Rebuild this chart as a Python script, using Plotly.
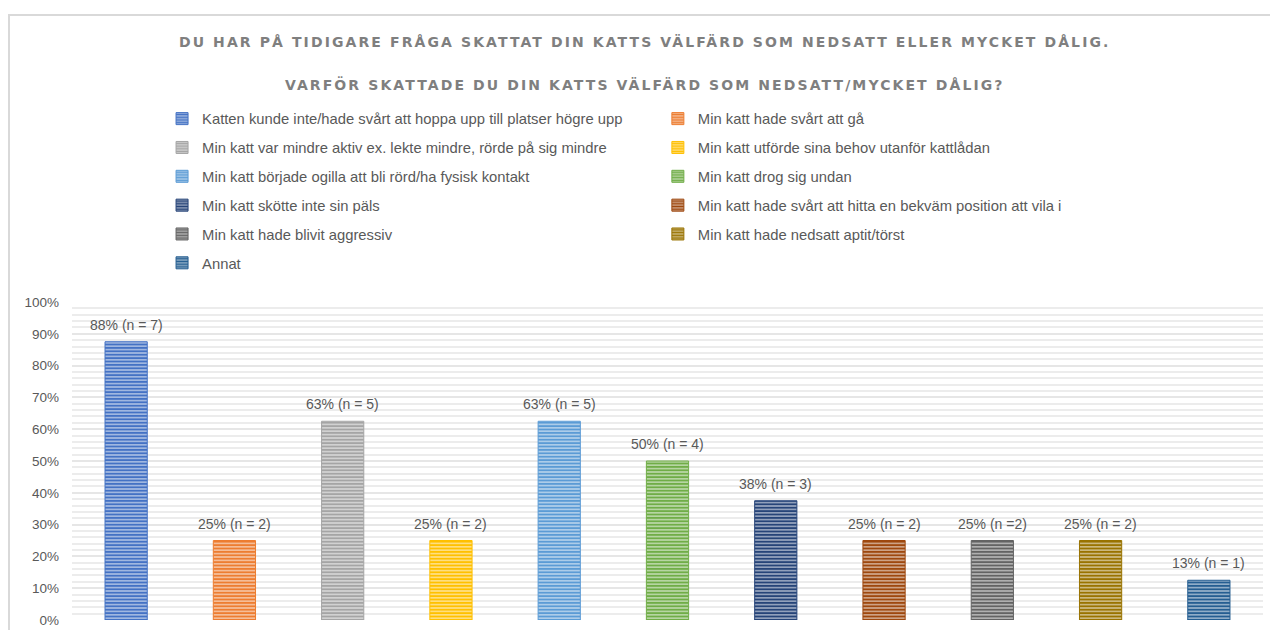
import plotly.graph_objects as go

categories = [
    "Katten kunde inte/hade svårt att hoppa upp till platser högre upp",
    "Min katt hade svårt att gå",
    "Min katt var mindre aktiv ex. lekte mindre, rörde på sig mindre",
    "Min katt utförde sina behov utanför kattlådan",
    "Min katt började ogilla att bli rörd/ha fysisk kontakt",
    "Min katt drog sig undan",
    "Min katt skötte inte sin päls",
    "Min katt hade svårt att hitta en bekväm position att vila i",
    "Min katt hade blivit aggressiv",
    "Min katt hade nedsatt aptit/törst",
    "Annat",
]
values = [0.875, 0.25, 0.625, 0.25, 0.625, 0.5, 0.375, 0.25, 0.25, 0.25, 0.125]
labels = ["88% (n = 7)", "25% (n = 2)", "63% (n = 5)", "25% (n = 2)", "63% (n = 5)",
          "50% (n = 4)", "38% (n = 3)", "25% (n = 2)", "25% (n =2)", "25% (n = 2)",
          "13% (n = 1)"]
colors = ["#4472C4", "#ED7D31", "#A5A5A5", "#FFC000", "#5B9BD5", "#70AD47",
          "#264478", "#9E480E", "#636363", "#997300", "#255E91"]
title_lines = ["DU HAR PÅ TIDIGARE FRÅGA SKATTAT DIN KATTS VÄLFÄRD SOM NEDSATT ELLER MYCKET DÅLIG.",
               "VARFÖR SKATTADE DU DIN KATTS VÄLFÄRD SOM NEDSATT/MYCKET DÅLIG?"]


def tint(hexc, f=0.55):
    h = hexc.lstrip("#")
    r, g, b = (int(h[i:i + 2], 16) for i in (0, 2, 4))
    r, g, b = (int(c + (255 - c) * f) for c in (r, g, b))
    return f"#{r:02x}{g:02x}{b:02x}"


TXT = "#595959"
FONT = "Liberation Sans"

fig = go.Figure()
for i, (cat, val, col) in enumerate(zip(categories, values, colors)):
    fig.add_trace(go.Bar(
        x=[cat], y=[val], name=cat, width=0.39,
        marker=dict(color=col, line=dict(color=col, width=1),
                    pattern=dict(shape="-", size=3.4, solidity=0.55,
                                 fgcolor=col, bgcolor=tint(col), fillmode="replace")),
        legend="legend" if i % 2 == 0 else "legend2",
        legendgroup=f"g{i}",
        hoverinfo="skip",
    ))
    fig.add_annotation(x=cat, y=val, text=labels[i], showarrow=False,
                       yanchor="bottom", yshift=7,
                       font=dict(family=FONT, size=14, color=TXT))

# title lines
for t, y in zip(title_lines, [1.8176, 1.6855]):
    fig.add_annotation(xref="paper", yref="paper", x=0.481, y=y, text=f"<b>{t}</b>",
                       showarrow=False, xanchor="center", yanchor="middle",
                       font=dict(family="DejaVu Sans", size=14, color="#7f7f7f"))

# chart frame
fig.add_shape(type="path", xref="paper", yref="paper",
              path="M -0.0529,-0.2 L -0.0529,1.9025 L 1.2,1.9025",
              line=dict(color="#d9d9d9", width=2))

legend_common = dict(orientation="v", yanchor="top", xanchor="left",
                     xref="container", yref="container",
                     font=dict(family=FONT, size=14.8, color=TXT),
                     tracegroupgap=6.6, itemwidth=30, bgcolor="rgba(0,0,0,0)")
fig.update_layout(
    width=1270, height=630,
    margin=dict(l=72, r=7, t=302, b=10, autoexpand=False),
    paper_bgcolor="white", plot_bgcolor="white",
    barmode="overlay",
    showlegend=True,
    legend=dict(x=0.1276, y=0.8373, **legend_common),
    legend2=dict(x=0.518, y=0.8373, **legend_common),
    xaxis=dict(showticklabels=False, showgrid=False, zeroline=False,
               range=[-0.5, 10.5], fixedrange=True),
    yaxis=dict(range=[0, 1], dtick=0.1, tick0=0, tickformat=".0%",
               showgrid=True, gridcolor="#e6e6e6", gridwidth=1.5,
               minor=dict(dtick=0.02, showgrid=True, gridcolor="#ececec", gridwidth=1.5),
               zeroline=False, ticks="", ticklabelstandoff=12,
               tickfont=dict(family=FONT, size=13.5, color=TXT)),
)

post = """
document.body.style.margin='0';
var gd = document.getElementById('{plot_id}');
gd.querySelectorAll('.annotation-text').forEach(function(el){
  if (el.textContent.indexOf('VÄLFÄRD') >= 0) { el.style.letterSpacing = '2.1px'; }
});
"""
fig.write_html("out.html", post_script=post, config={"displayModeBar": False})
